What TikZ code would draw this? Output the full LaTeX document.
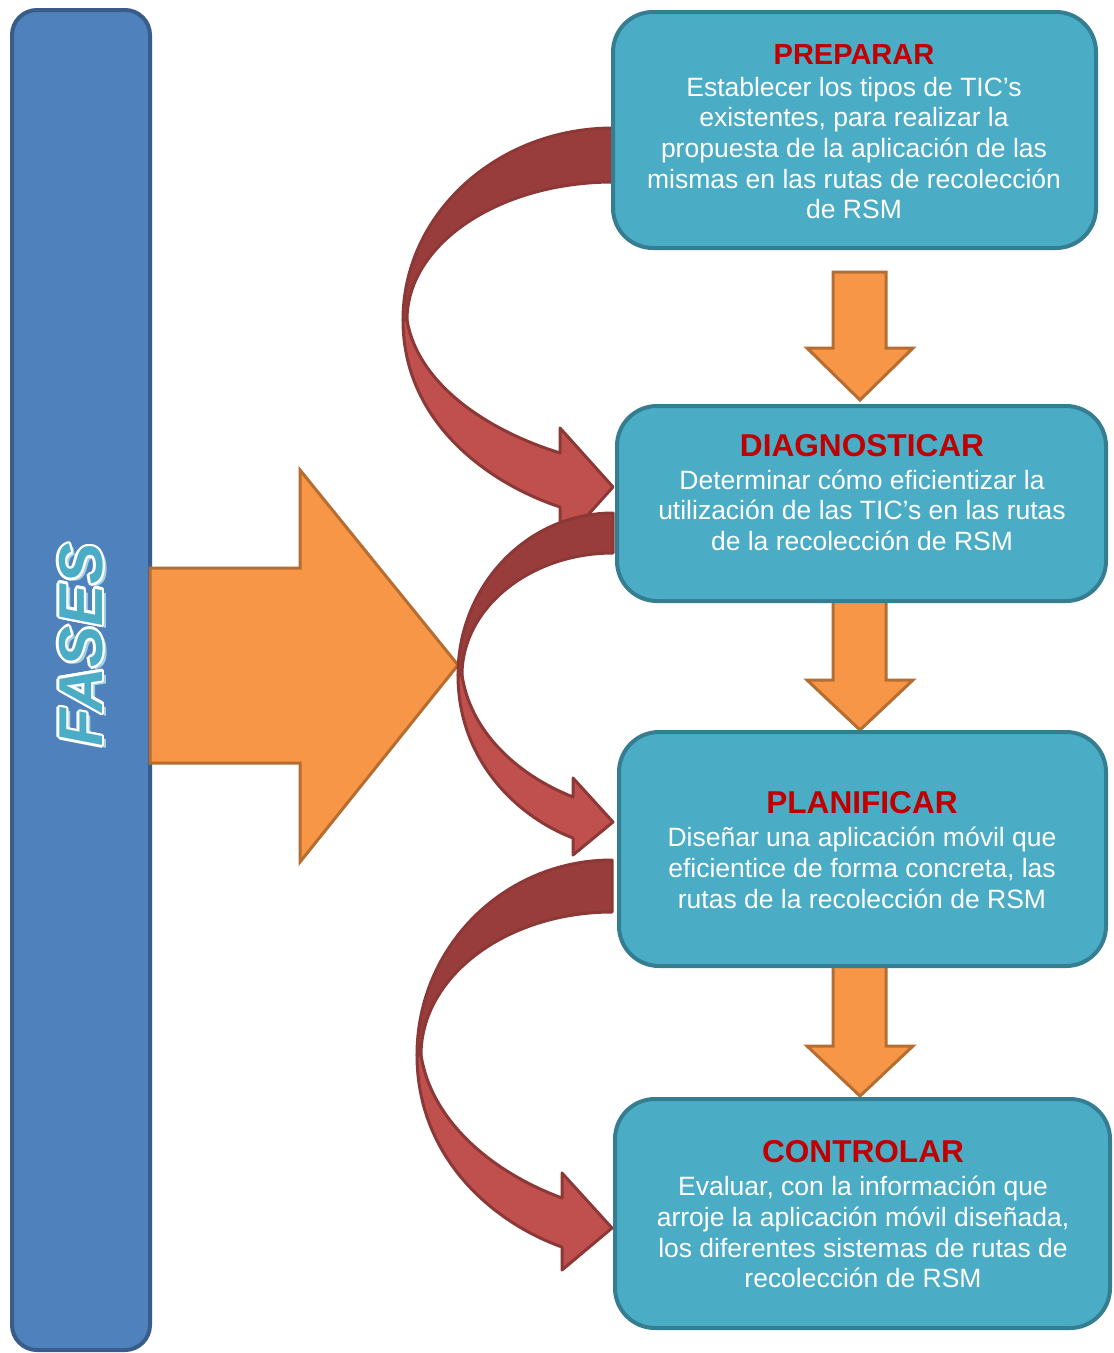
\documentclass[tikz,border=0pt]{standalone}
\usepackage{fontspec}
\setmainfont{Liberation Sans}
\usetikzlibrary{calc}
\definecolor{tealfill}{HTML}{4BACC6}
\definecolor{tealline}{HTML}{357D91}
\definecolor{barfill}{HTML}{4F81BD}
\definecolor{barline}{HTML}{385D8A}
\definecolor{orfill}{HTML}{F79646}
\definecolor{orline}{HTML}{B66D31}
\definecolor{redfront}{HTML}{C0504D}
\definecolor{redback}{HTML}{983D3B}
\definecolor{redline}{HTML}{8C3836}
\definecolor{ttlred}{HTML}{C00000}
\definecolor{fshadow}{HTML}{9DD3E2}
\newcommand\phasetitle[2]{{\fontsize{#1}{30.7}\selectfont\bfseries\color{ttlred}#2}}
\begin{document}
\begin{tikzpicture}[x=1pt,y=-1pt,
  box/.style={draw=tealline, fill=tealfill, line width=4pt, rounded corners=40pt, inner sep=0pt},
  body/.style={text=white, align=center, inner sep=0pt, anchor=north, font=\fontsize{26.5}{30.7}\selectfont},
  bigarrow/.style={draw=orline, fill=orfill, line width=3pt, line join=miter},
  downarrow/.style={draw=orline, fill=orfill, line width=3pt, line join=miter},
  cback/.style={draw=redline, fill=redback, line width=3pt, line join=round},
  cfront/.style={draw=redline, fill=redfront, line width=3pt, line join=round},
  fases/.style={font=\fontsize{62}{62}\selectfont\bfseries\itshape, rotate=90, inner sep=0pt},
]
\useasboundingbox (0,0) rectangle (1114,1353);
\fill[white] (0,0) rectangle (1114,1353);

% blue bar
\node[draw=barline, fill=barfill, line width=4pt, rounded corners=25pt, inner sep=0pt,
      minimum width=138pt, minimum height=1340pt] (bar) at (81,680) {};

% FASES lettering
\node[fases, text=fshadow] (fshadow) at (85,648) {FASES};
\foreach \a in {0,30,...,330} {
  \node[fases, text=white] (fw\a) at ($(81,645)+(\a:2.6)$) {FASES};
}
\node[fases, text=tealfill] (fasestext) at (81,645) {FASES};

% big orange arrow
\draw[bigarrow] (150,568) -- (300,568) -- (300,470) -- (458,665) -- (300,862)
  -- (300,763) -- (150,763) -- cycle;

% curved arrow 1
\draw[cback] (613,128) .. controls (497,128) and (403,214) .. (403,320)
  -- (407,320) .. controls (407,244) and (499,182) .. (613,182) -- cycle;
\draw[cfront] (403,320) .. controls (403,420) and (485,482) .. (560,507)
  -- (560,546) -- (613,487) -- (560,428) -- (560,453)
  .. controls (480,428) and (417,380) .. (407,320) -- cycle;

% curved arrow 2
\draw[cback] (613,513) .. controls (527,513) and (458,586) .. (458,675)
  -- (462,675) .. controls (462,608) and (530,553) .. (613,553) -- cycle;
\draw[cfront] (458,675) .. controls (458,761) and (518,817) .. (573,838)
  -- (573,855) -- (613,822) -- (573,778) -- (573,797)
  .. controls (515,774) and (470,730) .. (462,675) -- cycle;

% curved arrow 3
\draw[cback] (612,860) .. controls (504,860) and (417,947) .. (417,1055)
  -- (421,1055) .. controls (421,976) and (507,912) .. (612,912) -- cycle;
\draw[cfront] (417,1055) .. controls (417,1157) and (492,1222) .. (562,1247)
  -- (562,1270) -- (612,1228) -- (562,1173) -- (562,1198)
  .. controls (489,1171) and (431,1119) .. (421,1055) -- cycle;

% small orange down arrows
\draw[downarrow] (833,272) -- (886,272) -- (886,348) -- (913,348) -- (860,400)
  -- (807,348) -- (833,348) -- cycle;
\draw[downarrow] (833,600) -- (886,600) -- (886,680) -- (913,680) -- (860,730)
  -- (807,680) -- (833,680) -- cycle;
\draw[downarrow] (833,965) -- (886,965) -- (886,1046) -- (913,1046) -- (860,1096)
  -- (807,1046) -- (833,1046) -- cycle;

% boxes
\node[box, minimum width=483pt, minimum height=236pt] (b1) at (854.5,130) {};
\node[box, minimum width=489pt, minimum height=195pt] (b2) at (861.5,503.5) {};
\node[box, minimum width=487pt, minimum height=234pt] (b3) at (862.5,849) {};
\node[box, minimum width=495pt, minimum height=229pt] (b4) at (862.5,1213.5) {};

% texts
\node[body] (t1) at (854,44.2) {\phasetitle{29}{PREPARAR}\\[1pt]
  Establecer los tipos de TIC’s\\ existentes, para realizar la\\
  propuesta de la aplicación de las\\ mismas en las rutas de recolección\\ de RSM};
\node[body] (t2) at (862,434.7) {\phasetitle{31.6}{DIAGNOSTICAR}\\[1.5pt]
  Determinar cómo eficientizar la\\ utilización de las TIC’s en las rutas\\
  de la recolección de RSM};
\node[body] (t3) at (862,791.4) {\phasetitle{31.6}{PLANIFICAR}\\[2.5pt]
  Diseñar una aplicación móvil que\\ eficientice de forma concreta, las\\
  rutas de la recolección de RSM};
\node[body] (t4) at (863,1140.4) {\phasetitle{31.6}{CONTROLAR}\\[2.5pt]
  Evaluar, con la información que\\ arroje la aplicación móvil diseñada,\\
  los diferentes sistemas de rutas de\\ recolección de RSM};
\end{tikzpicture}
\end{document}
